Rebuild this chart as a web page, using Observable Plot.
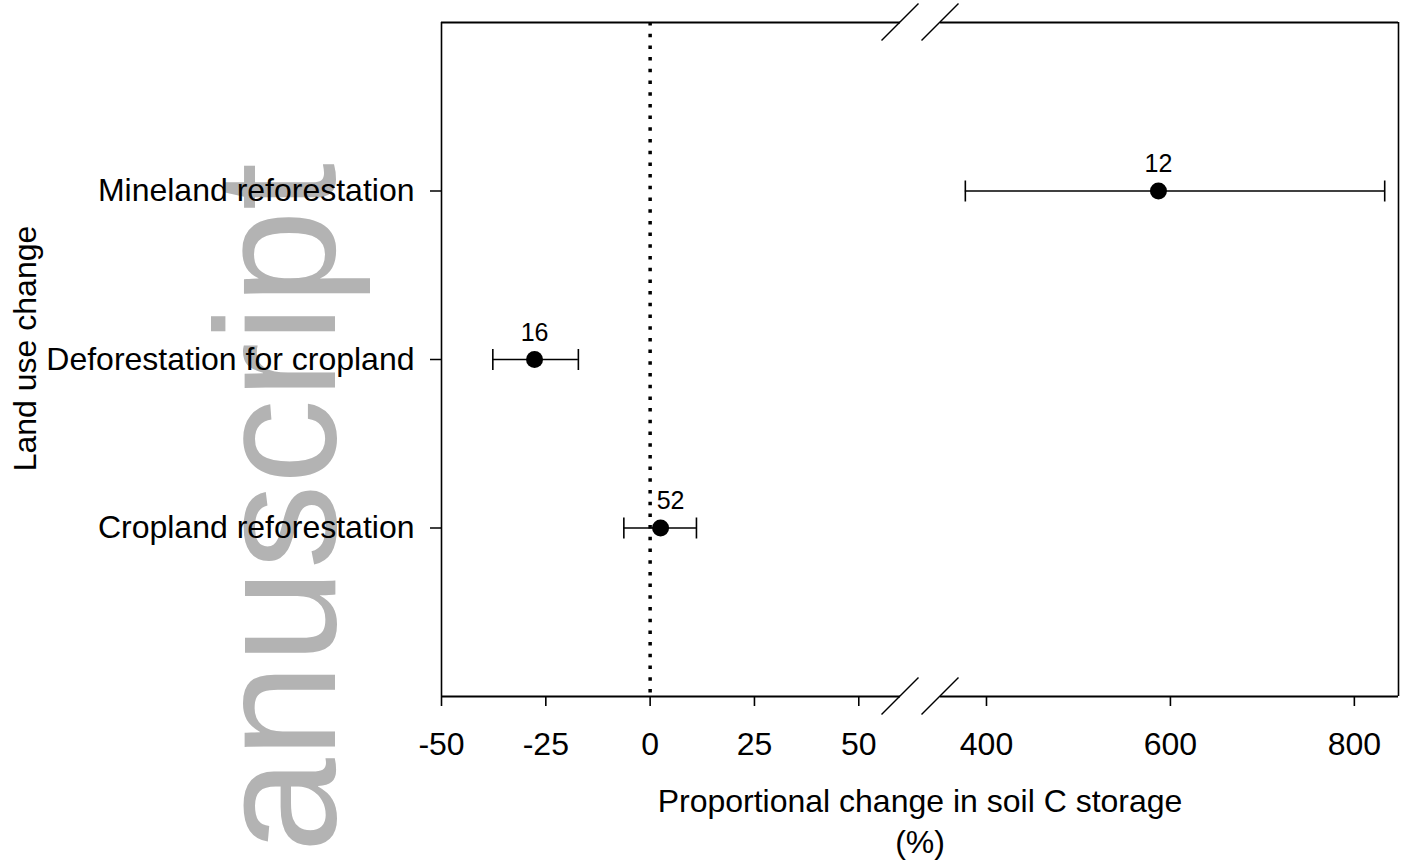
<!DOCTYPE html>
<html><head><meta charset="utf-8">
<script src="https://cdn.jsdelivr.net/npm/d3@7"></script>
<script src="https://cdn.jsdelivr.net/npm/@observablehq/plot@0.6"></script>
<style>body{margin:0;background:#fff}#chart svg{display:block}</style>
</head><body><div id="chart"></div>
<script>
// ---- data ----
const categories = ["Cropland reforestation", "Deforestation for cropland", "Mineland reforestation"];
const means = [2.5, -27.7, 587];
const lower = [-6.3, -37.7, 377];
const upper = [11.1, -17.2, 833];
const nObs = [52, 16, 12];
const xTicks = [-50, -25, 0, 25, 50, 400, 600, 800];
const xBreak = [60, 350];        // axis is broken between these two values
const xDomain = [-50, 848];
const xTitle = "Proportional change in soil C storage\n(%)";
const yTitle = "Land use change";
const watermark = "Manuscript";

const rows = categories.map((c, i) => ({cat: c, pos: i + 1, mean: means[i], lo: lower[i], hi: upper[i], n: nObs[i]}));
const frameSegs = [];
for (const yv of [0, categories.length + 1]) {
  frameSegs.push({y: yv, a: xDomain[0], b: xBreak[0]});
  frameSegs.push({y: yv, a: xBreak[1], b: xDomain[1]});
}

const FONT = "'Liberation Sans', Arial, Helvetica, sans-serif";
const W = 1404, H = 862;
const mL = 441, mR = 6, mT = 22, mB = 166;
const leftW = 459, gap = 40;
const rightW = W - mR - mL - leftW - gap;
// broken-axis transform: left segment kept, right segment compressed to fit its pixel share
const pxL = leftW / (xBreak[0] - xDomain[0]);
const kR = (rightW / (xDomain[1] - xBreak[1])) / pxL;
const brk = v => v <= xBreak[0] ? v : xBreak[0] + gap / pxL + (v - xBreak[1]) * kR;
const unbrk = u => u <= xBreak[0] ? u : xBreak[1] + (u - xBreak[0] - gap / pxL) / kR;

const capSymbol = {draw(ctx, size) { const r = Math.sqrt(size / Math.PI); ctx.moveTo(0, -r); ctx.lineTo(0, r); }};
const FS = 32;

const plot = Plot.plot({
  width: W, height: H,
  marginLeft: mL, marginRight: mR, marginTop: mT, marginBottom: mB,
  style: {fontFamily: FONT, fontSize: FS + "px", color: "black", background: "white"},
  x: {transform: brk, domain: [xDomain[0], brk(xDomain[1])]},
  y: {domain: [0, categories.length + 1]},
  marks: [
    Plot.ruleX([0], {stroke: "black", strokeWidth: 3.5, strokeDasharray: "3.5,8.2"}),
    Plot.ruleX([xDomain[0], xDomain[1]], {stroke: "black", strokeWidth: 1.6}),
    Plot.ruleY(frameSegs, {y: "y", x1: "a", x2: "b", stroke: "black", strokeWidth: 2.2}),
    Plot.ruleY(rows, {y: "pos", x1: "lo", x2: "hi", stroke: "black", strokeWidth: 1.4}),
    Plot.dot(rows, {x: "lo", y: "pos", symbol: capSymbol, r: 10.5, stroke: "black", strokeWidth: 1.6, fill: "none"}),
    Plot.dot(rows, {x: "hi", y: "pos", symbol: capSymbol, r: 10.5, stroke: "black", strokeWidth: 1.6, fill: "none"}),
    Plot.dot(rows, {x: "mean", y: "pos", r: 8.5, fill: "black", stroke: null}),
    Plot.text(rows.filter(d => d.mean > 0 && d.mean < 50), {x: "mean", y: "pos", text: "n", dy: -27, dx: 10, fontSize: 25, fill: "black"}),
    Plot.text(rows.filter(d => !(d.mean > 0 && d.mean < 50)), {x: "mean", y: "pos", text: "n", dy: -27, fontSize: 25, fill: "black"}),
    Plot.axisY({ticks: categories.map((c, i) => i + 1), tickFormat: v => categories[v - 1], tickSize: 11, tickPadding: 16, fontSize: FS, label: null, strokeWidth: 1.5}),
    Plot.axisX({ticks: xTicks.map(brk), tickFormat: u => String(Math.round(unbrk(u))), tickSize: 10, tickPadding: 26, fontSize: FS, label: null, strokeWidth: 1.6}),
    Plot.text([xTitle], {frameAnchor: "bottom", textAnchor: "middle", lineAnchor: "top", dy: 86, lineHeight: 41 / FS, fontSize: FS, fill: "black"}),
    Plot.text([yTitle], {frameAnchor: "left", textAnchor: "middle", rotate: -90, dx: -416, dy: -11, fontSize: FS, fill: "black"})
  ]
});

const svg = d3.select(plot);
// grey watermark behind everything
svg.insert("text", ":first-child")
  .attr("transform", "translate(335,163) rotate(-90)")
  .attr("text-anchor", "end")
  .attr("font-family", FONT)
  .attr("font-size", 170)
  .attr("fill", "#b3b3b3")
  .text(watermark);

// axis break slashes on top and bottom frame lines
const ys = plot.scale("y");
const yTop = ys.apply(categories.length + 1), yBot = ys.apply(0);
const xLeftBreak = mL + leftW, xRightBreak = mL + leftW + gap;
const s = 18.5;
for (const yy of [yTop, yBot]) {
  for (const xx of [xLeftBreak, xRightBreak]) {
    svg.append("line")
      .attr("x1", xx - s).attr("y1", yy + s)
      .attr("x2", xx + s).attr("y2", yy - s)
      .attr("stroke", "black").attr("stroke-width", 1.4);
  }
}
document.getElementById("chart").appendChild(plot);
</script>
</body></html>
